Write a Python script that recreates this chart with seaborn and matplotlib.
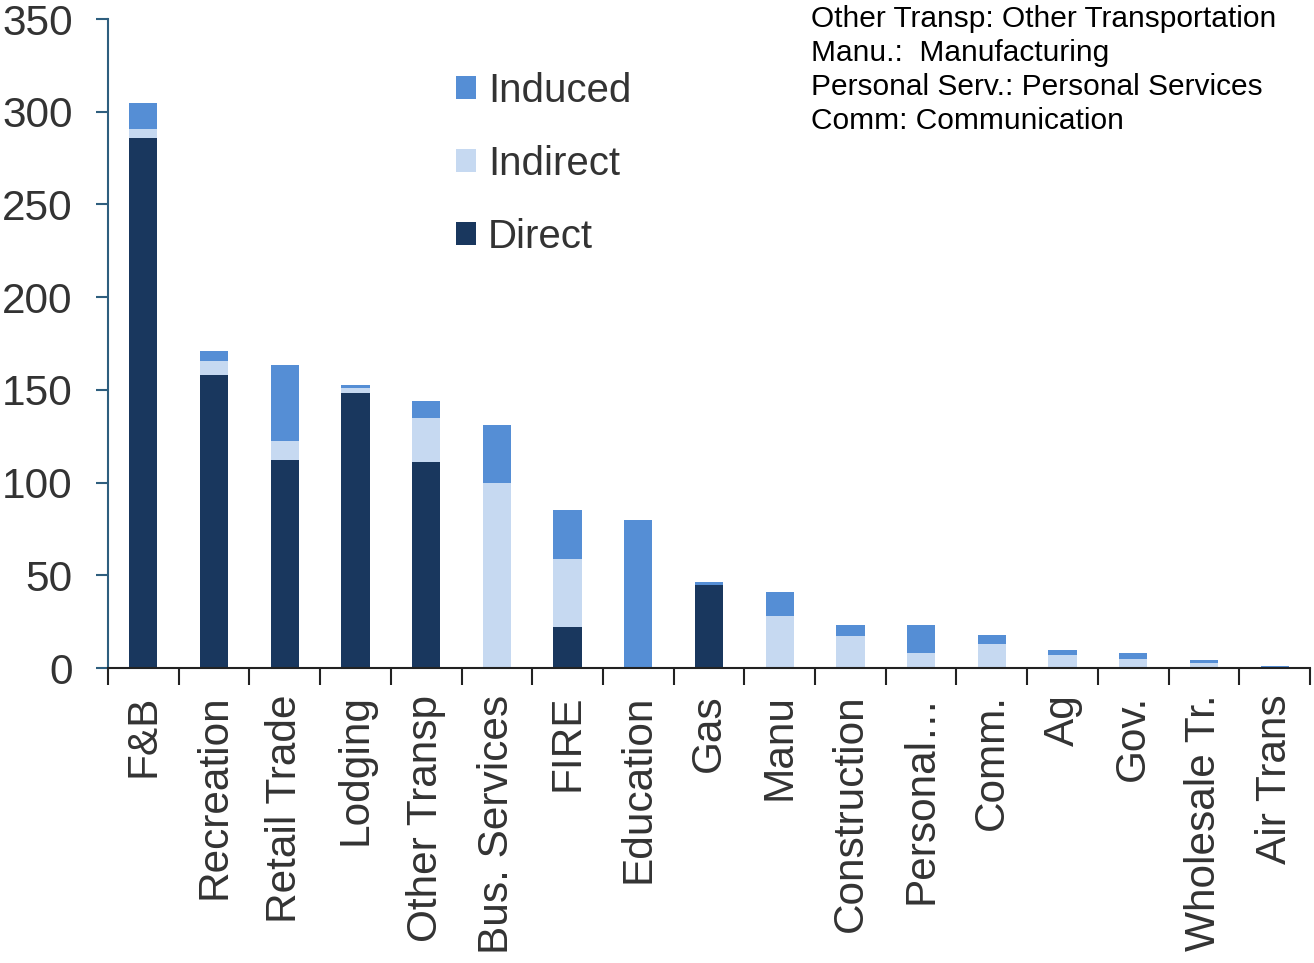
import matplotlib
matplotlib.use("Agg")
import matplotlib.pyplot as plt
import seaborn as sns
import pandas as pd
import numpy as np
from matplotlib.patches import Patch

categories = ["F&B", "Recreation", "Retail Trade", "Lodging", "Other Transp",
              "Bus. Services", "FIRE", "Education", "Gas", "Manu", "Construction",
              "Personal…", "Comm.", "Ag", "Gov.", "Wholesale Tr.", "Air Trans"]
direct   = [286, 158, 112, 148.5, 111, 0, 22, 0, 45, 0, 0, 0, 0, 0, 0, 0, 0]
indirect = [4.5, 7.7, 10.2, 2.5, 24, 100, 37, 0, 0, 28, 17, 8, 13, 7, 5, 2.7, 0]
induced  = [14, 5.3, 41, 1.8, 9, 31, 26, 80, 1.5, 13, 6, 15, 5, 2.5, 3, 1.8, 1]

series_names = ["Induced", "Indirect", "Direct"]
colors = {"Direct": "#19375E", "Indirect": "#C6D9F1", "Induced": "#558ED5"}
annotation = ["Other Transp: Other Transportation",
              "Manu.:  Manufacturing",
              "Personal Serv.: Personal Services",
              "Comm: Communication"]

df = pd.DataFrame({"category": categories, "Direct": direct,
                   "Indirect": indirect, "Induced": induced})
df["cum_direct"] = df["Direct"]
df["cum_indirect"] = df["Direct"] + df["Indirect"]
df["cum_induced"] = df["cum_indirect"] + df["Induced"]

sns.set_theme(style="white")
plt.rcParams["font.family"] = ["Liberation Sans", "DejaVu Sans"]

fig = plt.figure(figsize=(13.14, 9.63), dpi=100)
ax = fig.add_axes([108/1314, 1 - 668/963, (1310-108)/1314, (668-19)/963])

for col, name in [("cum_induced", "Induced"), ("cum_indirect", "Indirect"), ("cum_direct", "Direct")]:
    sns.barplot(data=df, x="category", y=col, color=colors[name], width=0.4,
                ax=ax, saturation=1, edgecolor="none", linewidth=0)

ax.set_xlim(-0.5, len(categories) - 0.5)
ax.set_ylim(0, 350)
ax.set_yticks(np.arange(0, 351, 50))
ax.set_xlabel("")
ax.set_ylabel("")

text_color = "#333333"
ax.tick_params(axis="y", which="major", left=True, length=9, width=1.5,
               color="#2E5E7E", pad=16.5, labelsize=30.5, labelcolor=text_color)
ax.set_xticks(range(len(categories)))
ax.set_xticklabels(categories, rotation=90, ha="center", va="top")
ax.tick_params(axis="x", which="major", bottom=False, length=0, pad=19,
               labelsize=30.5, labelcolor=text_color)
ax.set_xticks(np.arange(-0.5, len(categories), 1.0), minor=True)
ax.tick_params(axis="x", which="minor", bottom=True, length=12, width=1.5,
               color="#222222", direction="out")

for s in ["top", "right"]:
    ax.spines[s].set_visible(False)
ax.spines["left"].set_color("#2E5E7E")
ax.spines["left"].set_linewidth(1.5)
ax.spines["bottom"].set_color("#222222")
ax.spines["bottom"].set_linewidth(1.5)

handles = [Patch(facecolor=colors[n], edgecolor="none", label=n) for n in series_names]
leg = fig.legend(handles=handles, loc="upper left",
                 bbox_to_anchor=(456/1314, 1 - 72/963), frameon=False,
                 fontsize=29, handlelength=0.5, handleheight=0.5,
                 handletextpad=0.3, labelspacing=0.87, borderpad=0,
                 borderaxespad=0)
for t in leg.get_texts():
    t.set_color(text_color)

fig.text(811/1314, 1 - 5/963, "\n".join(annotation), ha="left", va="top",
         fontsize=21.5, color="black", linespacing=1.27)

fig.savefig("out.png", dpi=100)
